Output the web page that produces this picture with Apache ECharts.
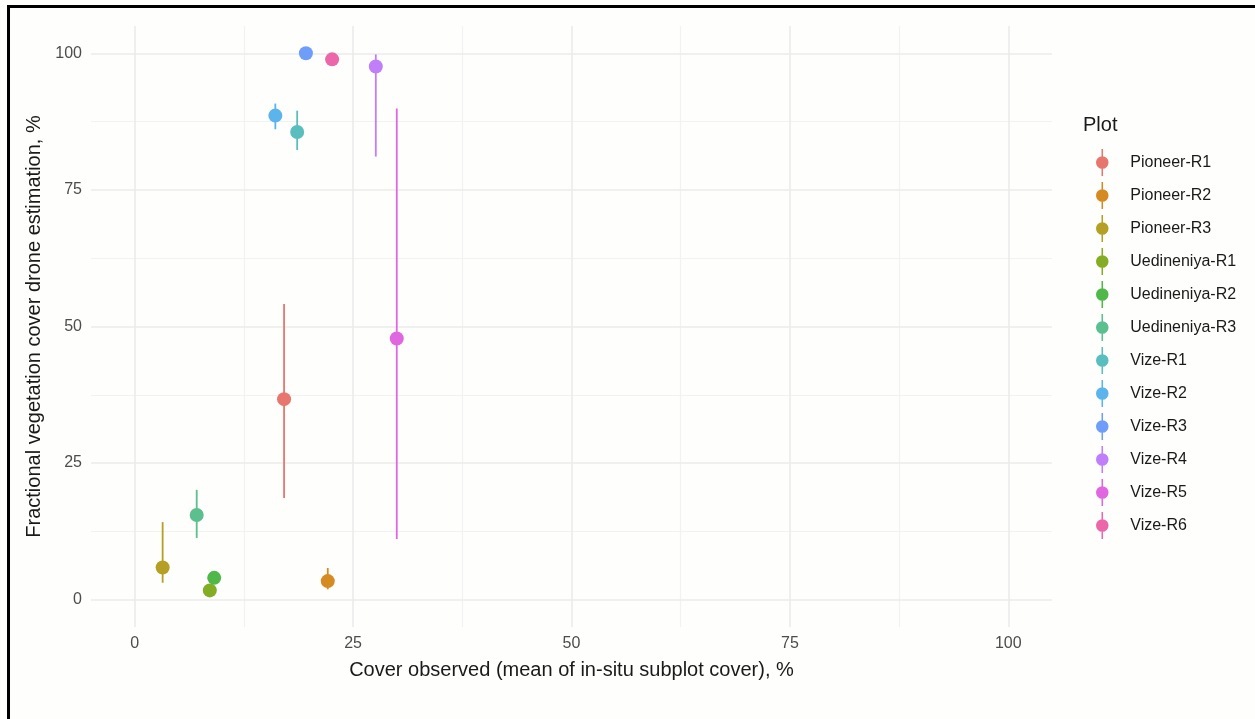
<!DOCTYPE html>
<html>
<head>
<meta charset="utf-8">
<script src="https://cdn.jsdelivr.net/npm/echarts@6/dist/echarts.min.js"></script>
<style>
  html, body { margin: 0; padding: 0; background: #fefefd; }
  #chart { width: 1255px; height: 719px; }
</style>
</head>
<body>
<div id="chart"></div>
<script>
// Plot identifiers
const plots = ['Pioneer-R1', 'Pioneer-R2', 'Pioneer-R3', 'Uedineniya-R1', 'Uedineniya-R2', 'Uedineniya-R3',
               'Vize-R1', 'Vize-R2', 'Vize-R3', 'Vize-R4', 'Vize-R5', 'Vize-R6'];
// Mean in-situ subplot cover, %
const observedCover = [17.1, 22.1, 3.2, 8.6, 9.1, 7.1, 18.6, 16.1, 19.6, 27.6, 30.0, 22.6];
// Drone-based fractional vegetation cover, %
const droneCover = [36.7, 3.4, 5.9, 1.7, 4.0, 15.5, 85.6, 88.6, 100, 97.6, 47.8, 98.9];
// Range of the drone estimate (null where no range is drawn)
const droneLow  = [18.6, 1.9, 3.1, null, null, 11.3, 82.3, 86.1, null, 81.1, 11.1, null];
const droneHigh = [54.1, 5.8, 14.2, null, null, 20.1, 89.5, 90.8, null, 99.8, 89.9, null];
// Tick values
const majorTicks = [0, 25, 50, 75, 100];
const minorTicks = [12.5, 37.5, 62.5, 87.5];

const palette = ['#E7766F', '#D58B22', '#B59F25', '#83AD24', '#4FB848', '#5BBF8E',
                 '#5BBEBE', '#5BB4EC', '#6E9EF9', '#C07EF8', '#E167E0', '#EC67AA'];

const FONT = '"Liberation Sans", Arial, Helvetica, sans-serif';

// Legend key: point with a vertical range line through it
const keyIcon = 'path://M6.2,0 L7.8,0 L7.8,28 L6.2,28 Z M0.5,14 A6.5,6.5 0 1,1 13.5,14 A6.5,6.5 0 1,1 0.5,14 Z';

const chart = echarts.init(document.getElementById('chart'), null, { renderer: 'canvas' });

// Background grid drawn as reference lines
const gridLines = [];
minorTicks.forEach(v => {
  gridLines.push({ xAxis: v, lineStyle: { color: '#f2f2f2', width: 1.2, type: 'solid' } });
  gridLines.push({ yAxis: v, lineStyle: { color: '#f2f2f2', width: 1.2, type: 'solid' } });
});
majorTicks.forEach(v => {
  gridLines.push({ xAxis: v, lineStyle: { color: '#ebebeb', width: 1.6, type: 'solid' } });
  gridLines.push({ yAxis: v, lineStyle: { color: '#ebebeb', width: 1.6, type: 'solid' } });
});

const series = [{
  type: 'scatter',
  data: [],
  z: 0,
  silent: true,
  markLine: {
    silent: true,
    z: 0,
    symbol: ['none', 'none'],
    label: { show: false },
    emphasis: { disabled: true },
    animation: false,
    lineStyle: { type: 'solid' },
    data: gridLines
  }
}];

plots.forEach((name, i) => {
  if (droneLow[i] !== null) {
    series.push({
      type: 'custom',
      name: name,
      z: 6,
      itemStyle: { color: palette[i] },
      data: [[observedCover[i], droneLow[i], droneHigh[i]]],
      renderItem: function (params, api) {
        const p0 = api.coord([api.value(0), api.value(1)]);
        const p1 = api.coord([api.value(0), api.value(2)]);
        return {
          type: 'line',
          shape: { x1: p0[0], y1: p0[1], x2: p1[0], y2: p1[1] },
          style: { stroke: palette[i], lineWidth: 1.8 }
        };
      }
    });
  }
  series.push({
    type: 'scatter',
    name: name,
    z: 7,
    symbol: 'circle',
    symbolSize: 14,
    itemStyle: { color: palette[i], opacity: 1 },
    data: [[observedCover[i], droneCover[i]]]
  });
});

const option = {
  backgroundColor: '#fefefd',
  animation: false,
  textStyle: { fontFamily: FONT },
  title: {
    text: 'Plot',
    left: 1078,
    top: 110,
    textStyle: { fontFamily: FONT, fontSize: 20, fontWeight: 'normal', color: '#1a1a1a' }
  },
  legend: {
    orient: 'vertical',
    left: 1091,
    top: 144,
    itemWidth: 14,
    itemHeight: 27,
    itemGap: 6,
    icon: keyIcon,
    data: plots,
    textStyle: { fontFamily: FONT, fontSize: 16, color: '#1a1a1a', padding: [0, 0, 0, 16] }
  },
  grid: { left: 91, top: 26, width: 961, height: 601, containLabel: false },
  xAxis: {
    type: 'value',
    min: -5,
    max: 105,
    name: 'Cover observed (mean of in-situ subplot cover), %',
    nameLocation: 'middle',
    nameGap: 33,
    nameTextStyle: { fontFamily: FONT, fontSize: 20, color: '#1a1a1a' },
    axisLine: { show: false },
    axisTick: { show: false },
    splitLine: { show: false },
    axisLabel: { customValues: majorTicks, fontFamily: FONT, fontSize: 16, color: '#4d4d4d', margin: 9 }
  },
  yAxis: {
    type: 'value',
    min: -5,
    max: 105,
    name: 'Fractional vegetation cover drone estimation, %',
    nameLocation: 'middle',
    nameGap: 40,
    nameRotate: 90,
    nameTextStyle: { fontFamily: FONT, fontSize: 20, color: '#1a1a1a' },
    axisLine: { show: false },
    axisTick: { show: false },
    splitLine: { show: false },
    axisLabel: { customValues: majorTicks, fontFamily: FONT, fontSize: 16, color: '#4d4d4d', margin: 9 }
  },
  graphic: [
    { type: 'rect', shape: { x: 7, y: 5, width: 1248, height: 3 }, style: { fill: '#000' }, z: 100 },
    { type: 'rect', shape: { x: 7, y: 5, width: 3, height: 714 }, style: { fill: '#000' }, z: 100 }
  ],
  series: series
};

chart.setOption(option);
</script>
</body>
</html>
